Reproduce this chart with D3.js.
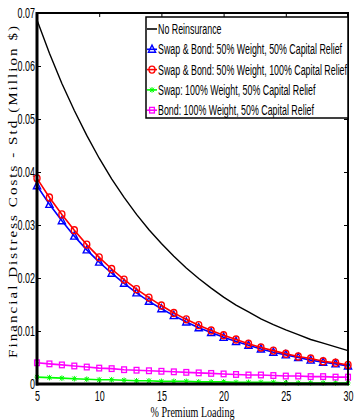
<!DOCTYPE html>
<html>
<head>
<meta charset="utf-8">
<script src="https://cdn.jsdelivr.net/npm/d3@7/dist/d3.min.js"></script>
<style>
  html, body { margin: 0; padding: 0; background: #fff; }
  svg { display: block; }
</style>
</head>
<body>
<svg id="chart" width="354" height="420"></svg>
<script>
// Premium loading (%) on the x axis
const loading = [5, 6, 7, 8, 9, 10, 11, 12, 13, 14, 15, 16, 17, 18, 19, 20, 21, 22, 23, 24, 25, 26, 27, 28, 29, 30];

// Std of financial distress costs (million $) per strategy
const noReinsurance = [0.0687, 0.0624, 0.0567, 0.0516, 0.0469, 0.0426, 0.0387, 0.0352, 0.0320, 0.0291, 0.0265, 0.0241, 0.0219,
                       0.0199, 0.0181, 0.0164, 0.0149, 0.0136, 0.0123, 0.0112, 0.0102, 0.0093, 0.0084, 0.0077, 0.0070, 0.0063];
const swapBond50 = [0.0374, 0.0339, 0.0308, 0.0279, 0.0253, 0.0230, 0.0209, 0.0190, 0.0172, 0.0156, 0.0142, 0.0129, 0.0117,
                    0.0106, 0.0097, 0.0088, 0.0080, 0.0073, 0.0066, 0.0060, 0.0055, 0.0050, 0.0045, 0.0041, 0.0038, 0.0034];
const swapBond100 = [0.0388, 0.0352, 0.0320, 0.0290, 0.0263, 0.0239, 0.0217, 0.0197, 0.0179, 0.0163, 0.0148, 0.0134, 0.0122,
                     0.0111, 0.0101, 0.0092, 0.0084, 0.0076, 0.0069, 0.0063, 0.0057, 0.0052, 0.0048, 0.0043, 0.0040, 0.0036];
const swapOnly = [0.0013, 0.0012, 0.0011, 0.0010, 0.0009, 0.0008, 0.0008, 0.0007, 0.0006, 0.0006, 0.0005, 0.0005, 0.0005,
                  0.0004, 0.0004, 0.0004, 0.0003, 0.0003, 0.0003, 0.0003, 0.0002, 0.0002, 0.0002, 0.0002, 0.0002, 0.0002];
const bondOnly = [0.0040, 0.0038, 0.0036, 0.0034, 0.0032, 0.0030, 0.0029, 0.0027, 0.0026, 0.0025, 0.0024, 0.0023, 0.0022,
                  0.0021, 0.0020, 0.0019, 0.0018, 0.0017, 0.0017, 0.0016, 0.0015, 0.0015, 0.0014, 0.0014, 0.0013, 0.0013];

const seriesNames = [
  "No Reinsurance",
  "Swap & Bond: 50% Weight, 50% Capital Relief",
  "Swap & Bond: 50% Weight, 100% Capital Relief",
  "Swap: 100% Weight, 50% Capital Relief",
  "Bond: 100% Weight, 50% Capital Relief"
];

const xTicks = [5, 10, 15, 20, 25, 30];
const xTickLabels = ["5", "10", "15", "20", "25", "30"];
const yTicks = [0, 0.01, 0.02, 0.03, 0.04, 0.05, 0.06, 0.07];
const yTickLabels = ["0", "0.01", "0.02", "0.03", "0.04", "0.05", "0.06", "0.07"];

const xTitle = "% Premium Loading";
const yTitle = "Financial Distress Costs - Std (Million $)";

// ---- layout ----
const L = 37, R = 348, T = 13, B = 384;
const SQUEEZE = 0.64;   // narrow sans glyphs for tick labels

const svg = d3.select("#chart");
const x = d3.scaleLinear().domain([5, 30]).range([L, R]);
const y = d3.scaleLinear().domain([0, 0.07]).range([B, T]);

const series = [
  { name: seriesNames[0], values: noReinsurance, color: "#000000", marker: "none",     width: 1.4 },
  { name: seriesNames[1], values: swapBond50,    color: "#0000ff", marker: "triangle", width: 1.6 },
  { name: seriesNames[2], values: swapBond100,   color: "#ff0000", marker: "circle",   width: 1.6 },
  { name: seriesNames[3], values: swapOnly,      color: "#00ff00", marker: "star",     width: 1.6 },
  { name: seriesNames[4], values: bondOnly,      color: "#ff00ff", marker: "square",   width: 1.6 }
];

function drawMarker(g, type, color) {
  if (type === "triangle") {
    g.append("path").attr("d", "M0,-4.2L3.6,3L-3.6,3Z")
      .attr("fill", "none").attr("stroke", color).attr("stroke-width", 1.4);
  } else if (type === "circle") {
    g.append("ellipse").attr("rx", 3).attr("ry", 3.5)
      .attr("fill", "none").attr("stroke", color).attr("stroke-width", 1.4);
  } else if (type === "square") {
    g.append("rect").attr("x", -2.4).attr("y", -2.8).attr("width", 4.8).attr("height", 5.6)
      .attr("fill", "none").attr("stroke", color).attr("stroke-width", 1.3);
  } else if (type === "star") {
    g.append("path").attr("d", "M-2.5,0H2.5M0,-2.8V2.8M-2,-2.2L2,2.2M-2,2.2L2,-2.2")
      .attr("fill", "none").attr("stroke", color).attr("stroke-width", 1);
  }
}

// ---- ticks (inward, on all four sides) ----
const tickLen = 4;
const axisG = svg.append("g").attr("class", "ticks");
axisG.append("g").attr("transform", `translate(${L},0)`)
  .call(d3.axisLeft(y).tickValues(yTicks).tickSize(-tickLen).tickSizeOuter(0).tickPadding(2)
        .tickFormat((d, i) => yTickLabels[i]));
axisG.append("g").attr("transform", `translate(${R},0)`)
  .call(d3.axisRight(y).tickValues(yTicks).tickSize(-tickLen).tickSizeOuter(0).tickFormat(""));
axisG.append("g").attr("transform", `translate(0,${B})`)
  .call(d3.axisBottom(x).tickValues(xTicks).tickSize(-tickLen).tickSizeOuter(0).tickPadding(7)
        .tickFormat((d, i) => xTickLabels[i]));
axisG.append("g").attr("transform", `translate(0,${T})`)
  .call(d3.axisTop(x).tickValues(xTicks).tickSize(-tickLen).tickSizeOuter(0).tickFormat(""));
axisG.selectAll(".domain").remove();
axisG.selectAll("line").attr("stroke", "#000").attr("stroke-width", 1);
axisG.selectAll("text").attr("font-family", "'Liberation Sans', Arial, sans-serif")
  .attr("font-size", 14).attr("fill", "#000").classed("narrow", true);

// ---- data lines and markers ----
const line = d3.line().x((d, i) => x(loading[i])).y(d => y(d));
series.forEach(s => {
  const g = svg.append("g");
  g.append("path").datum(s.values).attr("d", line)
    .attr("fill", "none").attr("stroke", s.color).attr("stroke-width", s.width);
  if (s.marker !== "none") {
    s.values.forEach((v, i) => {
      const m = g.append("g").attr("transform", `translate(${x(loading[i])},${y(v)})`);
      drawMarker(m, s.marker, s.color);
    });
  }
});

// ---- frame ----
svg.append("rect").attr("x", L).attr("y", T).attr("width", R - L).attr("height", B - T)
  .attr("fill", "none").attr("stroke", "#000").attr("stroke-width", 2);
svg.append("line").attr("x1", L).attr("x2", L).attr("y1", T - 1).attr("y2", B + 1.5)
  .attr("stroke", "#000").attr("stroke-width", 3);
svg.append("line").attr("x1", L - 1).attr("x2", R + 1).attr("y1", B).attr("y2", B)
  .attr("stroke", "#000").attr("stroke-width", 3);

// ---- legend ----
const lg = svg.append("g").attr("class", "legend");
lg.append("rect").attr("x", 146).attr("y", 17).attr("width", R - 146).attr("height", 101)
  .attr("fill", "#fff").attr("stroke", "#000").attr("stroke-width", 1.5);
series.forEach((s, i) => {
  const cy = 29 + i * 20.3;
  const row = lg.append("g").attr("transform", `translate(0,${cy})`);
  row.append("line").attr("x1", 147).attr("x2", 157).attr("y1", 0).attr("y2", 0)
    .attr("stroke", s.color).attr("stroke-width", 1.6);
  const m = row.append("g").attr("transform", "translate(152,0)");
  drawMarker(m, s.marker, s.color);
  row.append("text").attr("x", 158).attr("y", 0).attr("dy", "0.36em")
    .attr("font-family", "'Liberation Sans', Arial, sans-serif").attr("font-size", 14)
    .attr("fill", "#000").classed("legend-text", true).text(s.name);
});

// ---- axis titles ----
svg.append("text").attr("x", (L + R) / 2).attr("y", 417).attr("text-anchor", "middle")
  .attr("font-family", "'Liberation Serif', 'Times New Roman', serif").attr("font-size", 14)
  .attr("fill", "#000").classed("narrow-serif", true).text(xTitle);

svg.append("text")
  .attr("transform", "translate(17,192) rotate(-90) scale(1,0.8)")
  .attr("text-anchor", "middle")
  .attr("font-family", "'Liberation Serif', 'Times New Roman', serif").attr("font-size", 15)
  .attr("fill", "#000").attr("textLength", 332).attr("lengthAdjust", "spacing")
  .text(yTitle);

// narrow the horizontal labels
svg.selectAll("text.narrow").each(function () {
  const len = this.getComputedTextLength();
  d3.select(this).attr("textLength", len * SQUEEZE).attr("lengthAdjust", "spacingAndGlyphs");
});
const legendTexts = svg.selectAll("text.legend-text");
let maxLen = 0;
legendTexts.each(function () { maxLen = Math.max(maxLen, this.getComputedTextLength()); });
const legendScale = 189 / maxLen;
legendTexts.each(function () {
  const len = this.getComputedTextLength();
  d3.select(this).attr("textLength", len * legendScale).attr("lengthAdjust", "spacingAndGlyphs");
});
svg.selectAll("text.narrow-serif").each(function () {
  const len = this.getComputedTextLength();
  d3.select(this).attr("textLength", len * 0.72).attr("lengthAdjust", "spacingAndGlyphs");
});
</script>
</body>
</html>
